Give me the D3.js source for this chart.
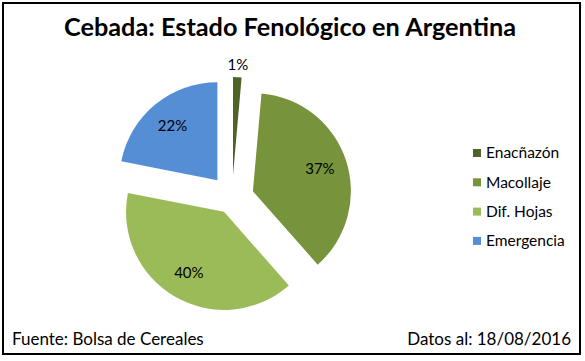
<!DOCTYPE html>
<html>
<head>
<meta charset="utf-8">
<script src="https://cdn.jsdelivr.net/npm/d3@7"></script>
<style>
  body { margin: 0; background: #fff; }
  svg text { font-family: Lato, "Open Sans", sans-serif; fill: #000; }
</style>
</head>
<body>
<div id="chart"></div>
<script>
// data
var stages = ["Enacñazón", "Macollaje", "Dif. Hojas", "Emergencia"]
var shares = [1.4, 37.1, 39.6, 21.9]
var colors = ["#4f6228", "#77933c", "#9bbb59", "#558ed5"]
var titleText = "Cebada: Estado Fenológico en Argentina"
var sourceText = "Fuente: Bolsa de Cereales"
var dateText = "Datos al: 18/08/2016"

// how far each slice is pulled out of the pie (excel "explosion")
var explode = [23, 22, 16, 23]

const width = 585, height = 361
const cx = 232, cy = 198, radius = 98

var svg = d3.select("#chart").append("svg")
  .attr("width", width)
  .attr("height", height)

// outer frame
svg.append("rect")
  .attr("x", 3).attr("y", 3)
  .attr("width", 577).attr("height", 351)
  .attr("fill", "white")
  .attr("stroke", "#000")
  .attr("stroke-width", 2)

svg.append("text")
  .attr("x", 290).attr("y", 36)
  .attr("text-anchor", "middle")
  .attr("font-size", 25)
  .attr("font-weight", "bold")
  .attr("textLength", 452)
  .attr("lengthAdjust", "spacingAndGlyphs")
  .text(titleText)

const pie = d3.pie().sort(null).value(d => d)
const arcs = pie(shares)
const arc = d3.arc().innerRadius(0).outerRadius(radius)
const fmt = d => Math.round(d) + "%"

var g = svg.append("g").attr("transform", "translate(" + cx + "," + cy + ")")

var slice = g.selectAll(".slice")
  .data(arcs)
  .enter().append("g")
    .attr("class", "slice")
    .attr("transform", function (d, i) {
      var a = (d.startAngle + d.endAngle) / 2
      return "translate(" + (Math.sin(a) * explode[i]) + "," + (-Math.cos(a) * explode[i]) + ")"
    })

slice.append("path")
  .attr("d", arc)
  .attr("fill", (d, i) => colors[i])

slice.append("text")
  .attr("text-anchor", "middle")
  .attr("dy", "0.35em")
  .attr("font-size", 15)
  .attr("fill", "#1a1a1a")
  .attr("transform", function (d) {
    var a = (d.startAngle + d.endAngle) / 2
    // the tiny slice gets its label outside the pie
    var k = (d.endAngle - d.startAngle) < 0.2 ? 1.13 : 0.72
    return "translate(" + (Math.sin(a) * radius * k) + "," + (-Math.cos(a) * radius * k) + ")"
  })
  .text(d => fmt(d.data))

// legend
var legend = svg.append("g").attr("transform", "translate(473,153)")
var item = legend.selectAll("g")
  .data(stages)
  .enter().append("g")
    .attr("transform", (d, i) => "translate(0," + (i * 29.3) + ")")

item.append("rect")
  .attr("x", 0).attr("y", -4)
  .attr("width", 8).attr("height", 8)
  .attr("fill", (d, i) => colors[i])

item.append("text")
  .attr("x", 13)
  .attr("dy", "0.35em")
  .attr("font-size", 15.5)
  .text(d => d)

svg.append("text")
  .attr("x", 12).attr("y", 345)
  .attr("font-size", 17)
  .text(sourceText)

svg.append("text")
  .attr("x", 571).attr("y", 345)
  .attr("text-anchor", "end")
  .attr("font-size", 17)
  .text(dateText)
</script>
</body>
</html>
